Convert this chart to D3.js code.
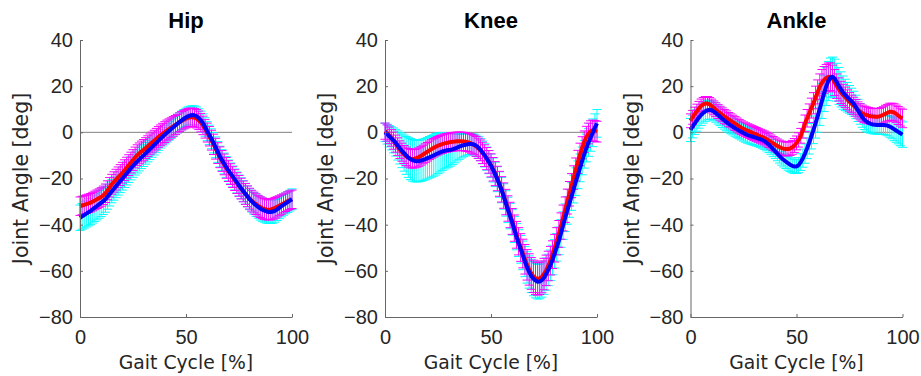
<!DOCTYPE html>
<html>
<head>
<meta charset="utf-8">
<script src="https://cdn.jsdelivr.net/npm/d3@7"></script>
<style>
  html, body { margin: 0; padding: 0; background: #fff; }
  svg { display: block; font-family: "Liberation Sans", Arial, Helvetica, sans-serif; }
  .tick text { fill: #262626; font-size: 20px; }
  .domain, .tick line { stroke: #666; }
  .axis-label { font-family: "DejaVu Sans", sans-serif; fill: #262626; }
</style>
</head>
<body>
<svg id="chart" width="921" height="376"></svg>
<script>
// gait cycle samples, 0..100 %
const gaitPct = d3.range(0, 101);

const titles = ["Hip", "Knee", "Ankle"];
const yTicks = [40, 20, 0, -20, -40, -60, -80];
const xTicks = [0, 50, 100];

// ---- Hip ----
const hipRed = [
  -32.0, -31.7, -31.4, -31.1, -30.8, -30.5, -30.0, -29.5, -29.0, -28.5,
  -28.0, -27.3, -26.4, -25.1, -23.8, -22.5, -21.5, -20.5, -19.5, -18.5,
  -17.5, -16.4, -15.3, -14.2, -13.1, -12.0, -10.9, -9.9, -9.1, -8.3,
  -7.6, -6.8, -6.0, -5.2, -4.4, -3.6, -2.8, -2.0, -1.3, -0.6,
  0.1, 0.8, 1.4, 2.0, 2.6, 3.2, 3.8, 4.4, 5.0, 5.5,
  5.9, 6.3, 6.5, 6.5, 6.3, 5.9, 5.2, 4.2, 3.0, 1.5,
  -0.1, -1.7, -3.4, -5.2, -7.1, -9.0, -10.8, -12.4, -13.9, -15.4,
  -16.8, -18.1, -19.4, -20.7, -22.0, -23.2, -24.4, -25.6, -26.7, -27.7,
  -28.7, -29.6, -30.4, -31.1, -31.8, -32.4, -32.9, -33.2, -33.4, -33.5,
  -33.4, -33.1, -32.7, -32.3, -31.8, -31.3, -30.8, -30.3, -29.8, -29.4,
  -29.0
];
const hipRedSd = [
  4, 4, 4, 4, 4, 4, 4, 4, 4, 4,
  4, 4, 4, 4.1, 4.2, 4.3, 4.4, 4.5, 4.5, 4.5,
  4.5, 4.5, 4.5, 4.5, 4.5, 4.5, 4.5, 4.5, 4.5, 4.5,
  4.5, 4.5, 4.5, 4.5, 4.5, 4.5, 4.5, 4.5, 4.5, 4.5,
  4.5, 4.5, 4.4, 4.3, 4.2, 4.1, 4, 4, 4, 4,
  4, 4, 4, 4, 4, 4, 4, 4, 4, 4,
  4.1, 4.2, 4.3, 4.4, 4.5, 4.5, 4.5, 4.5, 4.5, 4.5,
  4.5, 4.5, 4.5, 4.5, 4.5, 4.5, 4.5, 4.5, 4.5, 4.5,
  4.5, 4.5, 4.5, 4.5, 4.5, 4.5, 4.5, 4.5, 4.5, 4.5,
  4.5, 4.5, 4.5, 4.4, 4.3, 4.2, 4.1, 4, 4, 4,
  4
];
const hipBlue = [
  -37.0, -36.4, -35.8, -35.2, -34.6, -34.0, -33.3, -32.6, -31.9, -31.2,
  -30.5, -29.8, -29.0, -27.9, -26.7, -25.5, -24.4, -23.3, -22.2, -21.1,
  -20.0, -18.9, -17.8, -16.7, -15.6, -14.5, -13.5, -12.6, -11.7, -10.8,
  -10.0, -9.1, -8.2, -7.3, -6.4, -5.5, -4.6, -3.7, -2.8, -1.9,
  -1.0, -0.2, 0.6, 1.4, 2.2, 3.0, 3.8, 4.5, 5.2, 5.9,
  6.5, 7.0, 7.3, 7.5, 7.4, 7.0, 6.2, 5.2, 4.0, 2.3,
  0.5, -1.1, -2.8, -4.5, -6.5, -8.5, -10.5, -12.0, -13.5, -15.0,
  -16.5, -17.8, -19.1, -20.4, -21.7, -23.0, -24.2, -25.4, -26.6, -27.8,
  -29.0, -29.9, -30.8, -31.6, -32.3, -33.0, -33.5, -33.9, -34.3, -34.5,
  -34.5, -34.3, -34.0, -33.4, -32.7, -32.0, -31.4, -30.8, -30.2, -29.6,
  -29.0
];
const hipBlueSd = [
  5.5, 5.6, 5.7, 5.8, 5.9, 6, 6, 6, 6, 6,
  6, 5.8, 5.6, 5.4, 5.2, 5, 5, 5, 5, 5,
  5, 5, 5, 5, 5, 5, 5, 5, 5, 4.9,
  4.8, 4.7, 4.6, 4.5, 4.4, 4.3, 4.2, 4.1, 4, 4,
  4, 4, 4, 4, 4, 4, 4, 4, 4, 4,
  4, 4, 4, 4, 4, 4, 4, 4, 4, 4,
  4.1, 4.2, 4.3, 4.4, 4.5, 4.5, 4.5, 4.5, 4.5, 4.5,
  4.5, 4.5, 4.5, 4.5, 4.5, 4.5, 4.5, 4.5, 4.5, 4.5,
  4.5, 4.6, 4.7, 4.8, 4.9, 5, 5, 5, 5, 5,
  5, 5, 4.9, 4.8, 4.7, 4.6, 4.5, 4.5, 4.5, 4.5,
  4.5
];

// ---- Knee ----
const kneeRed = [
  0.5, -0.3, -1.3, -2.4, -3.6, -4.9, -6.2, -7.5, -8.6, -9.6,
  -10.4, -11.0, -11.4, -11.5, -11.4, -11.1, -10.7, -10.2, -9.6, -9.0,
  -8.4, -7.8, -7.2, -6.7, -6.2, -5.8, -5.4, -5.1, -4.8, -4.6,
  -4.4, -4.2, -4.1, -4.0, -3.9, -3.9, -3.9, -4.0, -4.1, -4.3,
  -4.6, -5.0, -5.5, -6.1, -6.9, -7.8, -8.9, -10.1, -11.4, -12.8,
  -14.3, -16.0, -17.9, -20.0, -22.3, -24.7, -27.4, -30.2, -33.0, -35.8,
  -38.6, -41.5, -44.4, -47.2, -49.9, -52.5, -55.0, -57.4, -59.4, -61.1,
  -62.4, -63.2, -63.5, -63.3, -62.6, -61.4, -59.8, -57.9, -55.6, -53.0,
  -50.2, -47.2, -44.0, -40.6, -37.1, -33.5, -30.0, -26.6, -23.1, -19.6,
  -16.1, -12.8, -9.6, -6.7, -4.1, -2.0, -0.5, 0.5, 0.8, 0.6,
  0.3
];
const kneeRedSd = [
  3.5, 3.5, 3.6, 3.6, 3.7, 3.7, 3.8, 3.8, 3.9, 3.9,
  4, 4, 4, 4, 4, 4, 4, 4, 4, 4,
  4, 4, 4, 4, 4, 4, 4, 4, 4, 4,
  4, 4, 4, 4, 4, 4, 4, 4, 4, 4,
  4, 4.1, 4.2, 4.3, 4.4, 4.5, 4.6, 4.7, 4.8, 4.9,
  5, 5.1, 5.2, 5.3, 5.4, 5.5, 5.5, 5.5, 5.5, 5.5,
  5.6, 5.7, 5.8, 5.9, 6, 6.2, 6.4, 6.6, 6.8, 6.9,
  7, 7, 7, 7, 6.9, 6.8, 6.6, 6.4, 6.2, 6,
  6, 5.9, 5.8, 5.7, 5.6, 5.5, 5.4, 5.3, 5.2, 5.1,
  5, 5, 4.9, 4.8, 4.7, 4.6, 4.5, 4.5, 4.5, 4.5,
  4.5
];
const kneeBlue = [
  0.0, -0.8, -1.7, -2.6, -3.5, -4.5, -5.7, -6.9, -8.0, -9.0,
  -10.0, -10.9, -11.6, -12.1, -12.4, -12.5, -12.4, -12.2, -11.9, -11.6,
  -11.2, -10.8, -10.4, -10.0, -9.5, -9.1, -8.7, -8.3, -8.0, -7.8,
  -7.7, -7.6, -7.3, -7.0, -6.6, -6.2, -5.9, -5.6, -5.4, -5.2,
  -5.1, -5.1, -5.3, -5.8, -6.5, -7.5, -8.7, -10.0, -11.4, -12.9,
  -14.5, -16.3, -18.2, -20.3, -22.6, -25.0, -27.8, -30.8, -33.6, -36.3,
  -39.0, -42.1, -45.2, -48.0, -50.7, -53.3, -56.0, -58.5, -60.5, -62.2,
  -63.4, -64.2, -64.7, -64.6, -64.0, -63.0, -61.4, -59.6, -57.6, -55.3,
  -52.6, -49.8, -47.0, -43.8, -40.4, -37.0, -33.8, -30.8, -27.8, -24.6,
  -21.4, -18.4, -15.4, -12.4, -9.5, -6.8, -4.4, -2.2, -0.2, 2.0,
  3.9
];
const kneeBlueSd = [
  4, 4.3, 4.6, 5, 5.4, 5.8, 6.3, 6.8, 7.3, 7.8,
  8.2, 8.6, 8.9, 9, 9, 9, 9, 9, 9, 9,
  9, 9, 9, 9, 9, 8.8, 8.5, 8.2, 7.9, 7.6,
  7.3, 7, 6.6, 6.2, 5.8, 5.5, 5.2, 5, 4.8, 4.6,
  4.5, 4.5, 4.5, 4.6, 4.7, 4.8, 4.9, 5, 5, 5,
  5.1, 5.2, 5.3, 5.4, 5.5, 5.5, 5.5, 5.5, 5.5, 5.5,
  5.5, 5.6, 5.7, 5.8, 6, 6.2, 6.5, 6.8, 7, 7.2,
  7.4, 7.5, 7.5, 7.5, 7.4, 7.2, 7, 6.8, 6.6, 6.4,
  6.2, 6, 6, 6, 6, 6, 6, 6, 6, 6,
  6, 6, 6, 6, 6, 6, 6, 6, 6, 6,
  6
];

// ---- Ankle ----
const ankleRed = [
  5.0, 6.5, 7.9, 9.2, 10.4, 11.4, 12.1, 12.5, 12.5, 12.1,
  11.4, 10.6, 9.8, 9.0, 8.3, 7.6, 6.9, 6.3, 5.6, 5.0,
  4.4, 3.8, 3.2, 2.6, 2.0, 1.5, 1.1, 0.7, 0.3, -0.1,
  -0.5, -0.9, -1.3, -1.7, -2.1, -2.5, -3.0, -3.6, -4.2, -4.8,
  -5.4, -5.9, -6.4, -6.8, -7.1, -7.2, -7.2, -7.0, -6.5, -5.7,
  -4.6, -3.3, -1.5, 0.9, 3.9, 6.1, 8.3, 10.5, 12.6, 15.1,
  17.5, 19.8, 21.5, 22.7, 23.5, 24.0, 24.1, 23.3, 21.6, 20.0,
  18.6, 17.3, 16.2, 15.2, 14.2, 13.2, 12.3, 11.5, 10.6, 9.7,
  8.9, 8.3, 7.8, 7.5, 7.2, 7.0, 6.9, 6.8, 6.8, 6.9,
  7.2, 7.6, 8.1, 8.5, 8.9, 8.9, 8.6, 8.0, 7.3, 6.6,
  6.0
];
const ankleRedSd = [
  3, 3, 3, 3, 3, 3, 3, 3, 3, 3,
  3, 3, 3, 3, 3, 3, 3, 3, 3, 3,
  3, 3, 3, 3, 3, 3, 3, 3, 3, 3,
  3, 3, 3, 3, 3, 3, 3, 3, 3, 3,
  3, 3, 3, 3, 3, 3, 3, 3, 3, 3,
  3, 3.1, 3.2, 3.4, 3.6, 3.8, 4, 4.3, 4.6, 4.9,
  5.2, 5.5, 5.7, 5.8, 5.9, 6, 6, 5.8, 5.6, 5.3,
  5, 4.8, 4.6, 4.4, 4.2, 4, 3.8, 3.7, 3.6, 3.5,
  3.5, 3.5, 3.5, 3.5, 3.5, 3.5, 3.5, 3.5, 3.5, 3.5,
  3.5, 3.5, 3.6, 3.6, 3.7, 3.7, 3.8, 3.8, 3.9, 3.9,
  4
];
const ankleBlue = [
  1.0, 2.5, 3.9, 5.2, 6.4, 7.5, 8.4, 9.1, 9.6, 9.8,
  9.6, 9.0, 8.3, 7.5, 6.7, 5.9, 5.1, 4.4, 3.7, 3.0,
  2.4, 1.8, 1.2, 0.7, 0.2, -0.3, -0.8, -1.2, -1.5, -1.8,
  -2.1, -2.4, -2.7, -3.0, -3.4, -3.9, -4.6, -5.4, -6.3, -7.3,
  -8.3, -9.3, -10.3, -11.2, -12.0, -12.7, -13.4, -14.0, -14.5, -14.8,
  -14.8, -14.2, -12.9, -11.2, -9.2, -6.9, -4.4, -1.7, 1.1, 4.0,
  7.0, 10.3, 13.6, 16.9, 19.8, 22.2, 23.7, 24.1, 23.3, 21.7,
  20.1, 18.6, 17.2, 16.2, 15.2, 14.3, 13.4, 12.4, 11.0, 9.5,
  8.0, 6.6, 5.5, 4.7, 4.1, 3.7, 3.4, 3.3, 3.2, 3.2,
  3.2, 3.2, 3.1, 2.9, 2.5, 2.0, 1.4, 0.8, 0.2, -0.4,
  -1.0
];
const ankleBlueSd = [
  5, 4.9, 4.8, 4.7, 4.6, 4.5, 4.4, 4.3, 4.2, 4.1,
  4, 4, 3.9, 3.9, 3.8, 3.8, 3.7, 3.7, 3.6, 3.6,
  3.5, 3.5, 3.5, 3.5, 3.5, 3.5, 3.5, 3.5, 3.5, 3.5,
  3.5, 3.5, 3.5, 3.5, 3.5, 3.5, 3.4, 3.3, 3.2, 3.1,
  3, 3, 3, 3, 3, 3, 3, 3, 3, 3,
  3, 3.3, 3.6, 3.9, 4.2, 4.5, 5, 5.5, 6, 6.5,
  7, 7.3, 7.6, 7.9, 8.2, 8.5, 8.5, 8.5, 8.4, 8.2,
  8, 7.6, 7.2, 6.8, 6.4, 6, 5.7, 5.4, 5.1, 4.8,
  4.5, 4.4, 4.3, 4.2, 4.1, 4, 4, 4, 4, 4,
  4, 4.1, 4.2, 4.4, 4.6, 4.8, 5, 5.1, 5.2, 5.4,
  5.5
];

const panels = [
  { red: hipRed, redSd: hipRedSd, blue: hipBlue, blueSd: hipBlueSd },
  { red: kneeRed, redSd: kneeRedSd, blue: kneeBlue, blueSd: kneeBlueSd },
  { red: ankleRed, redSd: ankleRedSd, blue: ankleBlue, blueSd: ankleBlueSd }
];

const svg = d3.select("#chart");
const panelLeft = [80, 385, 690.5];
const axW = 212;
const axTop = 40, axBottom = 317;
const cap = 4.5;

const y = d3.scaleLinear().domain([-80, 40]).range([axBottom, axTop]);
const x = d3.scaleLinear().domain([0, 100]).range([0, axW]);

function errorPath(mean, sd) {
  let d = "";
  gaitPct.forEach((p, i) => {
    const xi = x(p), lo = y(mean[i] - sd[i]), hi = y(mean[i] + sd[i]);
    d += `M${xi},${lo}V${hi}M${xi - cap},${hi}H${xi + cap}M${xi - cap},${lo}H${xi + cap}`;
  });
  return d;
}

const line = d3.line()
  .x((d, i) => x(gaitPct[i]))
  .y(d => y(d));

panels.forEach((p, j) => {
  const g = svg.append("g").attr("transform", `translate(${panelLeft[j]},0)`);

  // zero reference
  g.append("line")
    .attr("x1", x(0)).attr("x2", x(100))
    .attr("y1", y(0)).attr("y2", y(0))
    .attr("stroke", "#808080").attr("stroke-width", 1);

  g.append("path")
    .attr("d", errorPath(p.blue, p.blueSd))
    .attr("fill", "none").attr("stroke", "#00ffff").attr("stroke-width", 1);

  g.append("path")
    .attr("d", errorPath(p.red, p.redSd))
    .attr("fill", "none").attr("stroke", "#ff00ff").attr("stroke-width", 1);

  g.append("path")
    .attr("d", line(p.red))
    .attr("fill", "none").attr("stroke", "#ff0000")
    .attr("stroke-width", 4).attr("stroke-linejoin", "round");

  g.append("path")
    .attr("d", line(p.blue))
    .attr("fill", "none").attr("stroke", "#0000ff")
    .attr("stroke-width", 4).attr("stroke-linejoin", "round");

  const yAxis = d3.axisLeft(y).tickValues(yTicks)
    .tickSizeInner(-3).tickSizeOuter(0).tickPadding(7)
    .tickFormat(d => d < 0 ? "\u2212" + Math.abs(d) : d);
  g.append("g").call(yAxis);

  const xAxis = d3.axisBottom(x).tickValues(xTicks)
    .tickSizeInner(-3).tickSizeOuter(0).tickPadding(13);
  g.append("g").attr("transform", `translate(0,${axBottom})`).call(xAxis);

  g.selectAll(".tick text").attr("font-family", null).attr("font-size", null);

  g.append("text")
    .attr("x", axW / 2).attr("y", 28)
    .attr("text-anchor", "middle")
    .attr("font-size", 22).attr("font-weight", "bold")
    .attr("fill", "#000")
    .text(titles[j]);

  g.append("text")
    .attr("class", "axis-label")
    .attr("x", axW / 2).attr("y", 369)
    .attr("text-anchor", "middle")
    .attr("font-size", 18.8)
    .text("Gait Cycle [%]");

  g.append("text")
    .attr("class", "axis-label")
    .attr("transform", `translate(-52,${(axTop + axBottom) / 2}) rotate(-90)`)
    .attr("text-anchor", "middle")
    .attr("font-size", 20.5)
    .text("Joint Angle [deg]");
});
</script>
</body>
</html>
